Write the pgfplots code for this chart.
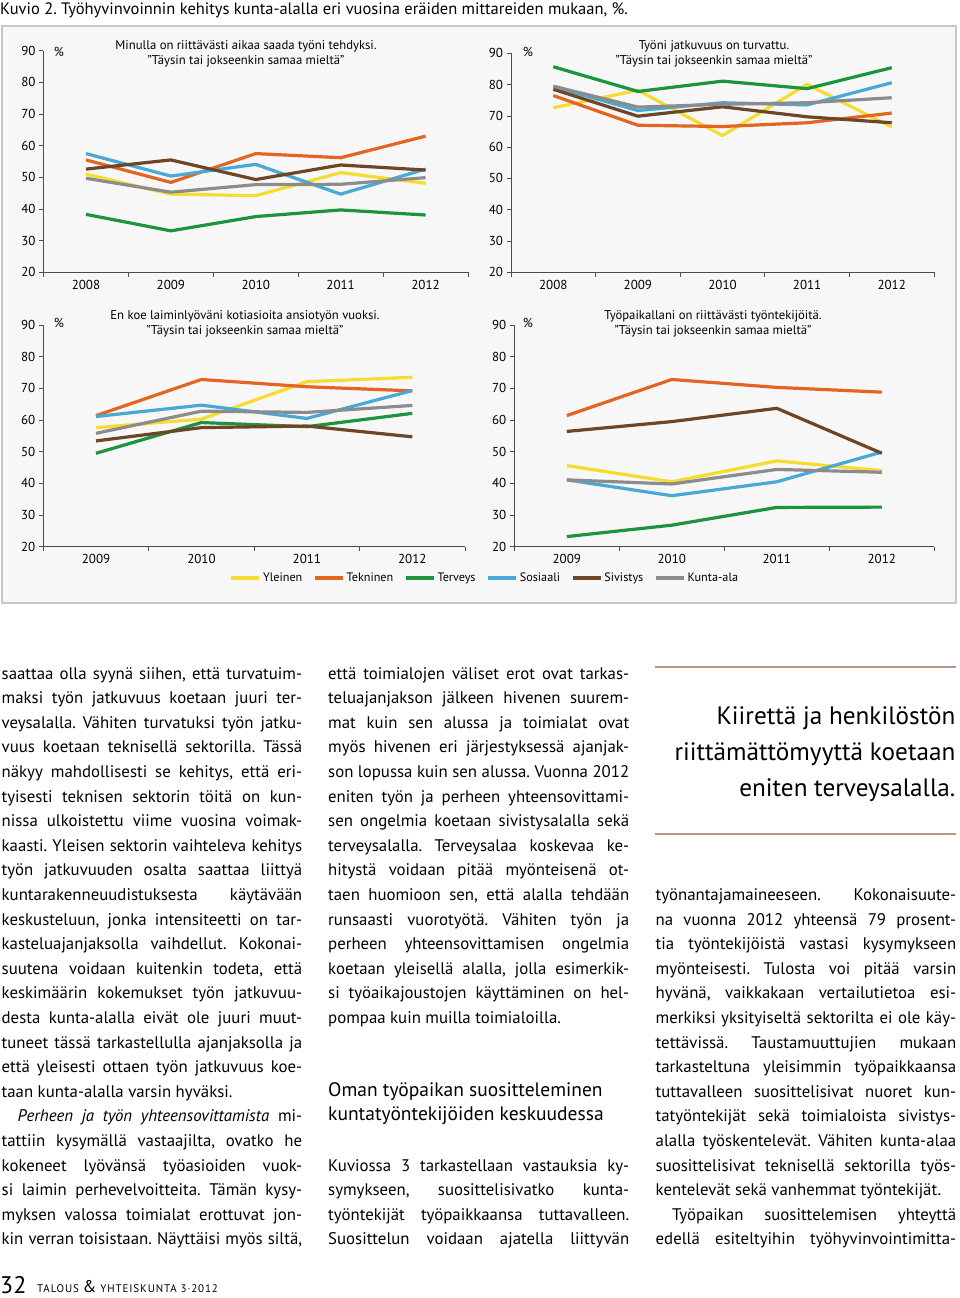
\documentclass[border=0pt]{standalone}
\usepackage{fontspec}
\setmainfont{PT Sans}
\usepackage{pgfplots}
\pgfplotsset{compat=1.18}

\definecolor{cY}{RGB}{247,220,48}
\definecolor{cT}{RGB}{226,102,34}
\definecolor{cH}{RGB}{28,148,62}
\definecolor{cS}{RGB}{72,168,214}
\definecolor{cV}{RGB}{108,70,38}
\definecolor{cK}{RGB}{140,140,140}
\definecolor{rulec}{RGB}{185,150,135}

\newcommand{\bodyfont}{\fontsize{16.8}{19}\selectfont}
\newcommand{\jw}[4]{\node[anchor=base west, inner sep=0pt, font=\bodyfont] at (#1pt,{-679pt-24.6pt*#2}) {\makebox[#3pt][s]{#4}};}
\newcommand{\lft}[3]{\node[anchor=base west, inner sep=0pt, font=\bodyfont] at (#1pt,{-679pt-24.6pt*#2}) {#3};}
\newcommand{\ttl}[3]{\node[anchor=base, inner sep=0pt, font=\fontsize{12.7}{14}\selectfont] at (#1pt,-#2pt) {#3};}

\pgfplotsset{
  panel/.style={
    scale only axis, clip=false,
    axis lines=left,
    axis line style={-, draw=black!70, line width=0.7pt},
    every tick/.style={draw=black!70, line width=0.7pt},
    tick align=outside,
    major tick length=4.5pt,
    ymin=20, ymax=90, ytick={20,30,...,90},
    ticklabel style={font=\fontsize{13}{13}\selectfont, text=black},
    /pgf/number format/assume math mode=true,
    x tick label as interval,
    every axis plot/.append style={line width=3.2pt, line join=round},
  },
  five/.style={xmin=-0.5, xmax=4.5, xtick={-0.5,0.5,1.5,2.5,3.5,4.5}, xticklabels={2008,2009,2010,2011,2012}},
  four/.style={xmin=-0.5, xmax=3.5, xtick={-0.5,0.5,1.5,2.5,3.5}, xticklabels={2009,2010,2011,2012}},
}

\begin{document}
\frenchspacing
\begin{tikzpicture}
\useasboundingbox (0pt,0pt) rectangle (960pt,-1298pt);

% chart title
\node[anchor=base west, inner sep=0pt, font=\fontsize{16.5}{19}\selectfont] at (0pt,-15pt) {Kuvio 2. Työhyvinvoinnin kehitys kunta-alalla eri vuosina eräiden mittareiden mukaan, \%.};

% frame
\draw[draw=black!22, fill=black!3, line width=1.2pt] (2pt,-26pt) rectangle (956pt,-603pt);

% Panel 1
\begin{axis}[panel, five, at={(43.5pt,-272.3pt)}, anchor=south west, width=424.5pt, height=221.6pt]
\addplot[cY] coordinates {(0,51.0) (1,44.7) (2,44.2) (3,51.5) (4,48.1)};
\addplot[cT] coordinates {(0,55.5) (1,48.4) (2,57.5) (3,56.2) (4,63.0)};
\addplot[cH] coordinates {(0,38.3) (1,33.1) (2,37.6) (3,39.7) (4,38.1)};
\addplot[cS] coordinates {(0,57.5) (1,50.4) (2,54.1) (3,44.7) (4,52.6)};
\addplot[cV] coordinates {(0,52.6) (1,55.5) (2,49.3) (3,53.9) (4,52.3)};
\addplot[cK] coordinates {(0,49.7) (1,45.3) (2,47.7) (3,47.8) (4,49.9)};
\end{axis}

% Panel 2
\begin{axis}[panel, five, at={(511pt,-272.3pt)}, anchor=south west, width=423pt, height=219pt]
\addplot[cY] coordinates {(0,72.6) (1,78.2) (2,63.7) (3,80.1) (4,66.4)};
\addplot[cT] coordinates {(0,76.5) (1,67.0) (2,66.6) (3,67.8) (4,70.9)};
\addplot[cH] coordinates {(0,85.7) (1,77.8) (2,81.1) (3,78.7) (4,85.4)};
\addplot[cS] coordinates {(0,79.3) (1,71.7) (2,74.2) (3,73.5) (4,80.6)};
\addplot[cV] coordinates {(0,78.5) (1,69.9) (2,72.9) (3,69.7) (4,67.8)};
\addplot[cK] coordinates {(0,79.5) (1,72.8) (2,73.7) (3,74.2) (4,75.8)};
\end{axis}

% Panel 3
\begin{axis}[panel, four, at={(43.3pt,-546.7pt)}, anchor=south west, width=421.7pt, height=221.7pt,
  legend style={at={(axis description cs:1.0474,-0.1412)}, anchor=center, draw=none, fill=none,
    legend columns=6, font=\fontsize{12.2}{12.2}\selectfont,
    /tikz/every even column/.append style={column sep=9pt}},
  legend image code/.code={\draw[#1] (0pt,0pt) -- (28pt,0pt);}]
\addplot[cY] coordinates {(0,57.6) (1,60.3) (2,72.1) (3,73.5)};
\addplot[cT] coordinates {(0,61.4) (1,72.8) (2,70.5) (3,69.2)};
\addplot[cH] coordinates {(0,49.5) (1,59.2) (2,57.9) (3,62.1)};
\addplot[cS] coordinates {(0,61.1) (1,64.7) (2,60.5) (3,69.3)};
\addplot[cV] coordinates {(0,53.4) (1,57.6) (2,58.1) (3,54.7)};
\addplot[cK] coordinates {(0,55.8) (1,62.8) (2,62.4) (3,64.6)};
\legend{Yleinen,Tekninen,Terveys,Sosiaali,Sivistys,Kunta-ala}
\end{axis}

% Panel 4
\begin{axis}[panel, four, at={(514.3pt,-546.7pt)}, anchor=south west, width=420pt, height=221.7pt]
\addplot[cY] coordinates {(0,45.6) (1,40.5) (2,47.1) (3,44.0)};
\addplot[cT] coordinates {(0,61.4) (1,72.8) (2,70.3) (3,68.8)};
\addplot[cH] coordinates {(0,23.2) (1,26.8) (2,32.4) (3,32.5)};
\addplot[cS] coordinates {(0,41.1) (1,36.1) (2,40.5) (3,49.9)};
\addplot[cV] coordinates {(0,56.4) (1,59.5) (2,63.7) (3,49.5)};
\addplot[cK] coordinates {(0,41.1) (1,39.8) (2,44.4) (3,43.5)};
\end{axis}

% panel titles and % signs
\ttl{246}{49.3}{Minulla on riittävästi aikaa saada työni tehdyksi.}
\ttl{246}{65}{”Täysin tai jokseenkin samaa mieltä”}
\ttl{714}{49.3}{Työni jatkuvuus on turvattu.}
\ttl{714}{64}{”Täysin tai jokseenkin samaa mieltä”}
\ttl{245}{319.3}{En koe laiminlyöväni kotiasioita ansiotyön vuoksi.}
\ttl{245}{334}{”Täysin tai jokseenkin samaa mieltä”}
\ttl{713}{319.3}{Työpaikallani on riittävästi työntekijöitä.}
\ttl{713}{334}{”Täysin tai jokseenkin samaa mieltä”}
\node[anchor=base, inner sep=0pt, font=\fontsize{13}{13}\selectfont] at (59pt,-57pt) {\%};
\node[anchor=base, inner sep=0pt, font=\fontsize{13}{13}\selectfont] at (528pt,-57pt) {\%};
\node[anchor=base, inner sep=0pt, font=\fontsize{13}{13}\selectfont] at (59pt,-327pt) {\%};
\node[anchor=base, inner sep=0pt, font=\fontsize{13}{13}\selectfont] at (528pt,-327pt) {\%};

% Column 1
\jw{1.5}{0}{300.5}{saattaa olla syynä siihen, että turvatuim-}
\jw{1.5}{1}{300.5}{maksi työn jatkuvuus koetaan juuri ter-}
\jw{1.5}{2}{300.5}{veysalalla. Vähiten turvatuksi työn jatku-}
\jw{1.5}{3}{300.5}{vuus koetaan teknisellä sektorilla. Tässä}
\jw{1.5}{4}{300.5}{näkyy mahdollisesti se kehitys, että eri-}
\jw{1.5}{5}{300.5}{tyisesti teknisen sektorin töitä on kun-}
\jw{1.5}{6}{300.5}{nissa ulkoistettu viime vuosina voimak-}
\jw{1.5}{7}{300.5}{kaasti. Yleisen sektorin vaihteleva kehitys}
\jw{1.5}{8}{300.5}{työn jatkuvuuden osalta saattaa liittyä}
\jw{1.5}{9}{300.5}{kuntarakenneuudistuksesta käytävään}
\jw{1.5}{10}{300.5}{keskusteluun, jonka intensiteetti on tar-}
\jw{1.5}{11}{300.5}{kasteluajanjaksolla vaihdellut. Kokonai-}
\jw{1.5}{12}{300.5}{suutena voidaan kuitenkin todeta, että}
\jw{1.5}{13}{300.5}{keskimäärin kokemukset työn jatkuvuu-}
\jw{1.5}{14}{300.5}{desta kunta-alalla eivät ole juuri muut-}
\jw{1.5}{15}{300.5}{tuneet tässä tarkastellulla ajanjaksolla ja}
\jw{1.5}{16}{300.5}{että yleisesti ottaen työn jatkuvuus koe-}
\lft{1.5}{17}{taan kunta-alalla varsin hyväksi.}
\jw{17.5}{18}{284.5}{\textit{Perheen ja työn yhteensovittamista} mi-}
\jw{1.5}{19}{300.5}{tattiin kysymällä vastaajilta, ovatko he}
\jw{1.5}{20}{300.5}{kokeneet lyövänsä työasioiden vuok-}
\jw{1.5}{21}{300.5}{si laimin perhevelvoitteita. Tämän kysy-}
\jw{1.5}{22}{300.5}{myksen valossa toimialat erottuvat jon-}
\jw{1.5}{23}{300.5}{kin verran toisistaan. Näyttäisi myös siltä,}

% Column 2
\jw{328}{0}{301}{että toimialojen väliset erot ovat tarkas-}
\jw{328}{1}{301}{teluajanjakson jälkeen hivenen suurem-}
\jw{328}{2}{301}{mat kuin sen alussa ja toimialat ovat}
\jw{328}{3}{301}{myös hivenen eri järjestyksessä ajanjak-}
\jw{328}{4}{301}{son lopussa kuin sen alussa. Vuonna 2012}
\jw{328}{5}{301}{eniten työn ja perheen yhteensovittami-}
\jw{328}{6}{301}{sen ongelmia koetaan sivistysalalla sekä}
\jw{328}{7}{301}{terveysalalla. Terveysalaa koskevaa ke-}
\jw{328}{8}{301}{hitystä voidaan pitää myönteisenä ot-}
\jw{328}{9}{301}{taen huomioon sen, että alalla tehdään}
\jw{328}{10}{301}{runsaasti vuorotyötä. Vähiten työn ja}
\jw{328}{11}{301}{perheen yhteensovittamisen ongelmia}
\jw{328}{12}{301}{koetaan yleisellä alalla, jolla esimerkik-}
\jw{328}{13}{301}{si työaikajoustojen käyttäminen on hel-}
\lft{328}{14}{pompaa kuin muilla toimialoilla.}
\node[anchor=base west, inner sep=0pt, font=\fontsize{19.5}{22}\selectfont] at (328pt,-1096pt) {Oman työpaikan suositteleminen};
\node[anchor=base west, inner sep=0pt, font=\fontsize{19.5}{22}\selectfont] at (328pt,-1120.7pt) {kuntatyöntekijöiden keskuudessa};
\jw{328}{20}{301}{Kuviossa 3 tarkastellaan vastauksia ky-}
\jw{328}{21}{301}{symykseen, suosittelisivatko kunta-}
\jw{328}{22}{301}{työntekijät työpaikkaansa tuttavalleen.}
\jw{328}{23}{301}{Suosittelun voidaan ajatella liittyvän}

% Column 3: pull quote
\draw[rulec, line width=1.3pt] (655pt,-667pt) -- (956pt,-667pt);
\draw[rulec, line width=1.3pt] (655pt,-834pt) -- (956pt,-834pt);
\node[anchor=base east, inner sep=0pt, font=\fontsize{25.2}{28}\selectfont] at (955.5pt,-724pt) {Kiirettä ja henkilöstön};
\node[anchor=base east, inner sep=0pt, font=\fontsize{25.2}{28}\selectfont] at (955.5pt,-760pt) {riittämättömyyttä koetaan};
\node[anchor=base east, inner sep=0pt, font=\fontsize{25.2}{28}\selectfont] at (955.5pt,-796pt) {eniten terveysalalla.};

\jw{655.5}{9}{300.5}{työnantajamaineeseen. Kokonaisuute-}
\jw{655.5}{10}{300.5}{na vuonna 2012 yhteensä 79 prosent-}
\jw{655.5}{11}{300.5}{tia työntekijöistä vastasi kysymykseen}
\jw{655.5}{12}{300.5}{myönteisesti. Tulosta voi pitää varsin}
\jw{655.5}{13}{300.5}{hyvänä, vaikkakaan vertailutietoa esi-}
\jw{655.5}{14}{300.5}{merkiksi yksityiseltä sektorilta ei ole käy-}
\jw{655.5}{15}{300.5}{tettävissä. Taustamuuttujien mukaan}
\jw{655.5}{16}{300.5}{tarkasteltuna yleisimmin työpaikkaansa}
\jw{655.5}{17}{300.5}{tuttavalleen suosittelisivat nuoret kun-}
\jw{655.5}{18}{300.5}{tatyöntekijät sekä toimialoista sivistys-}
\jw{655.5}{19}{300.5}{alalla työskentelevät. Vähiten kunta-alaa}
\jw{655.5}{20}{300.5}{suosittelisivat teknisellä sektorilla työs-}
\lft{655.5}{21}{kentelevät sekä vanhemmat työntekijät.}
\jw{672}{22}{284}{Työpaikan suosittelemisen yhteyttä}
\jw{655.5}{23}{300.5}{edellä esiteltyihin työhyvinvointimitta-}

% footer
\node[anchor=base west, inner sep=0pt, font=\fontsize{24}{26}\selectfont] at (0pt,-1293pt) {32};
\node[anchor=base west, inner sep=0pt, font=\fontsize{11}{12}\selectfont] at (37pt,-1292pt) {\addfontfeatures{LetterSpace=8}TALOUS {\fontsize{17}{17}\selectfont\&} YHTEISKUNTA 3·2012};
\end{tikzpicture}
\end{document}
